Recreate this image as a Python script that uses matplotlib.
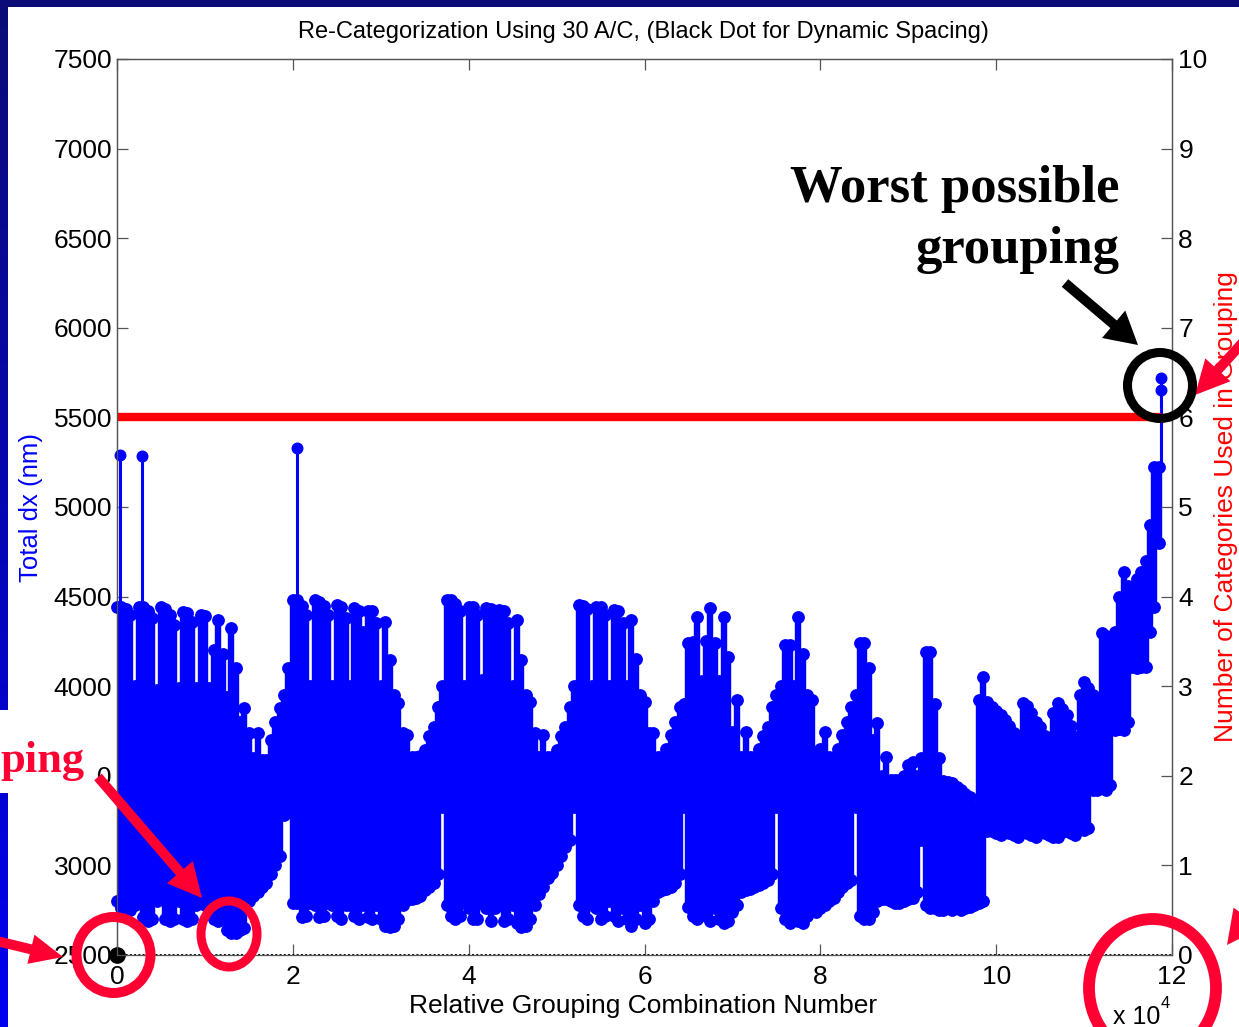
import numpy as np
import matplotlib
matplotlib.use("Agg")
import matplotlib.pyplot as plt
from matplotlib.patches import Rectangle, Ellipse, FancyArrow

plt.rcParams['font.family'] = ['Liberation Sans', 'DejaVu Sans']

W, H, DPI = 1239, 1027, 100

# ---------------- data ----------------
x_step = 0.05   # spacing of the read-off samples, in units of 1e4 groupings

total_hi = [
    4440, 4440, 4430, 4400, 4000, 4440, 4440, 4420, 4380, 3980,
    4440, 4430, 4400, 4340, 3990, 4414, 4410, 4360, 3990, 4397,
    4390, 3990, 4200, 4370, 4180, 3940, 4325, 4100, 3800, 3878,
    3740, 3600, 3740, 3590, 3590, 3700, 3800, 3880, 3950, 4100,
    4480, 4480, 4450, 4400, 4000, 4480, 4470, 4450, 4400, 4000,
    4453, 4440, 4380, 4000, 4436, 4420, 4300, 4420, 4420, 4350,
    4000, 4358, 4146, 3950, 3906, 3740, 3728, 3605, 3605, 3610,
    3644, 3720, 3772, 3884, 4000, 4480, 4480, 4460, 4420, 4000,
    4442, 4440, 4400, 4035, 4436, 4430, 4380, 4425, 4420, 4350,
    4000, 4369, 4146, 3950, 3912, 3739, 3605, 3728, 3605, 3605,
    3644, 3720, 3772, 3884, 4000, 4453, 4450, 4430, 4000, 4442,
    4440, 4400, 4000, 4425, 4420, 4350, 4000, 4369, 4150, 3950,
    3912, 3739, 3739, 3605, 3605, 3650, 3730, 3800, 3884, 3900,
    4240, 4247, 4386, 4030, 4250, 4436, 4240, 4030, 4386, 4163,
    3745, 3923, 3605, 3745, 3605, 3605, 3650, 3720, 3770, 3884,
    3950, 4000, 4230, 4230, 4000, 4386, 4180, 3950, 3923, 3605,
    3650, 3745, 3605, 3605, 3650, 3730, 3800, 3884, 3950, 4241,
    4241, 4100, 3700, 3795, 3500, 3605, 3477, 3477, 3477, 3500,
    3560, 3577, 3500, 3600, 4191, 4191, 3900, 3600, 3470, 3465,
    3460, 3440, 3420, 3400, 3380, 3326, 3923, 4051, 3910, 3884,
    3860, 3840, 3811, 3780, 3740, 3700, 3906, 3890, 3850, 3800,
    3773, 3720, 3683, 3850, 3906, 3870, 3840, 3780, 3717, 3950,
    4023, 3990, 3950, 3900, 4297, 4280, 4260, 4300, 4500, 4637,
    4560, 4550, 4600, 4637, 4700, 4900, 5223, 5223,
]

total_lo = [
    2800, 2760, 2750, 2750, 2780, 2820, 2710, 2690, 2700, 2800,
    2820, 2700, 2690, 2700, 2800, 2700, 2690, 2700, 2780, 2800,
    2780, 2790, 2700, 2690, 2700, 2640, 2620, 2625, 2640, 2650,
    2800, 2830, 2850, 2880, 2900, 2950, 3000, 3050, 3280, 3310,
    2790, 2790, 2710, 2720, 2790, 2780, 2710, 2720, 2790, 2780,
    2720, 2700, 2780, 2780, 2720, 2700, 2780, 2710, 2700, 2780,
    2700, 2660, 2656, 2660, 2700, 2780, 2807, 2810, 2820, 2830,
    2860, 2880, 2900, 2950, 3326, 2780, 2720, 2700, 2720, 2800,
    2760, 2700, 2700, 2790, 2760, 2690, 2760, 2780, 2690, 2700,
    2780, 2680, 2656, 2660, 2700, 2780, 2840, 2880, 2930, 2960,
    3000, 3050, 3100, 3142, 3326, 2780, 2720, 2700, 2780, 2760,
    2700, 2720, 2800, 2720, 2690, 2760, 2700, 2660, 2700, 2780,
    2680, 2700, 2800, 2850, 2860, 2870, 2880, 2900, 2950, 3326,
    2770, 2720, 2700, 2760, 2720, 2690, 2760, 2700, 2678, 2690,
    2740, 2780, 2850, 2860, 2870, 2880, 2890, 2900, 2920, 2950,
    3326, 2760, 2700, 2680, 2740, 2690, 2680, 2720, 2760, 2740,
    2760, 2780, 2800, 2820, 2850, 2880, 2900, 2919, 3326, 2720,
    2700, 2700, 2740, 2800, 2810, 2810, 2800, 2790, 2790, 2800,
    2810, 2820, 2850, 3142, 2780, 2760, 2760, 2750, 2750, 2760,
    2750, 2760, 2750, 2760, 2770, 2780, 2790, 2800, 3190, 3190,
    3180, 3170, 3186, 3180, 3170, 3160, 3186, 3180, 3170, 3160,
    3190, 3180, 3170, 3160, 3160, 3186, 3190, 3180, 3170, 3209,
    3200, 3209, 3421, 3421, 3430, 3421, 3450, 3756, 3760, 3756,
    3800, 4107, 4100, 4107, 4107, 4300, 4442, 4800,
]

spike_x = [0.03, 0.28, 2.05, 11.87, 11.87]
spike_base = [4440, 4440, 4480, 5223, 5223]
spike_top = [5290, 5285, 5330, 5720, 5655]

cat_x = [0.0, 11.87]          # number of categories used (right axis)
cat_y = [6, 6]

dyn_x = [0.0]                 # black dot for dynamic spacing
dyn_y = [2500]
base_x = [0.0, 12.0]          # dotted baseline
base_y = [2500, 2500]

x_ticks = [0, 2, 4, 6, 8, 10, 12]
x_ticklabels = ['0', '2', '4', '6', '8', '10', '12']
y_ticks = [2500, 3000, 3500, 4000, 4500, 5000, 5500, 6000, 6500, 7000, 7500]
y2_ticks = [0, 1, 2, 3, 4, 5, 6, 7, 8, 9, 10]

title = 'Re-Categorization Using 30 A/C, (Black Dot for Dynamic Spacing)'
xlabel = 'Relative Grouping Combination Number'
ylabel = 'Total dx (nm)'
y2label = 'Number of Categories Used in Grouping'

BLUE = '#0000ff'
SLIDE_RED = '#ff0033'

# ---------------- figure ----------------
fig = plt.figure(figsize=(W / DPI, H / DPI), dpi=DPI)
fig.patch.set_facecolor('white')


def fx(px):
    return px / W


def fy(py):
    return 1 - py / H


L, R, T, B = 117, 1172, 59, 955
ax = fig.add_axes([fx(L), fy(B), (R - L) / W, (B - T) / H])
ax.set_facecolor('white')

xs = np.arange(len(total_hi)) * x_step
ax.vlines(xs, total_lo, total_hi, colors=BLUE, lw=4.6, zorder=2)
ax.plot(xs, total_hi, 'o', ms=8.2, color=BLUE, mec=BLUE, zorder=3, clip_on=False)
ax.plot(xs, total_lo, 'o', ms=8.2, color=BLUE, mec=BLUE, zorder=3, clip_on=False)
ax.vlines(spike_x, spike_base, spike_top, colors=BLUE, lw=2.2, zorder=2)
ax.plot(spike_x, spike_top, 'o', ms=7.6, color=BLUE, mec=BLUE, zorder=3, clip_on=False)

ax.plot(base_x, base_y, color='k', lw=1.4, ls=(0, (1, 1.2)), zorder=4, clip_on=False)
ax.plot(dyn_x, dyn_y, 'o', color='k', ms=11, zorder=6, clip_on=False)

ax.set_xlim(0, 12)
ax.set_ylim(2500, 7500)
ax.set_xticks(x_ticks)
ax.set_xticklabels(x_ticklabels)
ax.set_yticks(y_ticks)
ax.tick_params(axis='x', direction='in', length=8, width=0.9, color='#555555',
               labelsize=19, pad=7, top=True)
ax.tick_params(axis='y', direction='in', length=8, width=0.9, color='#555555',
               labelsize=19, pad=3.5)

ax2 = ax.twinx()
ax2.set_ylim(0, 10)
ax2.set_yticks(y2_ticks)
ax2.plot(cat_x, cat_y, color='#ff0000', lw=6, solid_capstyle='butt', zorder=2)
ax2.tick_params(axis='y', direction='in', length=8, width=0.9, color='#555555',
                labelsize=19, pad=4.5)
for a in (ax, ax2):
    for s in a.spines.values():
        s.set_color('#555555')
        s.set_linewidth(0.9)
ax.spines['bottom'].set_visible(False)

fig.text(fx(643), fy(32), title, ha='center', va='center', fontsize=17)
fig.text(fx(643), fy(1006), xlabel, ha='center', va='center', fontsize=19)
fig.text(fx(31), fy(507), ylabel, ha='center', va='center', rotation=90,
         fontsize=18.5, color=BLUE)
fig.text(fx(1226), fy(507), y2label, ha='center', va='center', rotation=90,
         fontsize=19, color='#ff0000')
fig.text(fx(1113), fy(1017), 'x 10', ha='left', va='center', fontsize=18)
fig.text(fx(1161), fy(1003), '4', ha='left', va='center', fontsize=12)

# ---------------- slide overlay (pixel coordinates) ----------------
ov = fig.add_axes([0, 0, 1, 1], zorder=10)
ov.set_facecolor('none')
ov.axis('off')

grad = np.linspace(0, 1, 256)[:, None]
c0 = np.array([12, 12, 118]) / 255.0
c1 = np.array([0, 0, 240]) / 255.0
img = (c0[None, None, :] * (1 - grad[:, :, None]) + c1[None, None, :] * grad[:, :, None])
ov.imshow(img, extent=[0, 8, H, 0], aspect='auto', zorder=1, interpolation='bilinear')
ov.add_patch(Rectangle((0, 0), W, 7, color='#0c0c78', zorder=1, lw=0))

# white box behind the cut-off red word
ov.add_patch(Rectangle((0, 710), 97, 83, color='white', zorder=2, lw=0))
ov.text(0, 772, 'ping', ha='left', va='baseline', fontsize=32,
        fontweight='bold', family='Liberation Serif', color=SLIDE_RED, zorder=3)

ov.text(1120, 202, 'Worst possible', ha='right', va='baseline', fontsize=38,
        fontweight='bold', family='Liberation Serif', color='black', zorder=3)
ov.text(1120, 263, 'grouping', ha='right', va='baseline', fontsize=38,
        fontweight='bold', family='Liberation Serif', color='black', zorder=3)


def arrow(x0, y0, x1, y1, color, width=10, hw=32, hl=32):
    ov.add_patch(FancyArrow(x0, y0, x1 - x0, y1 - y0, width=width, head_width=hw,
                            head_length=hl, length_includes_head=True,
                            color=color, lw=0, zorder=5))


arrow(-20, 937, 63, 957, SLIDE_RED, hw=30, hl=33)
arrow(98, 777, 202, 898, SLIDE_RED, hw=34, hl=34)
arrow(1265, 318, 1195, 395, SLIDE_RED, hw=34, hl=34)
arrow(1290, 860, 1227, 945, SLIDE_RED, hw=34, hl=34)
arrow(1065, 283, 1138, 345, 'black', hw=36, hl=32)

ov.add_patch(Ellipse((113.5, 955), 74, 76, fill=False, lw=7.2, ec=SLIDE_RED, zorder=6))
ov.add_patch(Ellipse((229, 934), 56, 66, fill=False, lw=6.5, ec=SLIDE_RED, zorder=6))
ov.add_patch(Ellipse((1152.5, 988), 127, 138, fill=False, lw=8.5, ec=SLIDE_RED, zorder=6))
ov.add_patch(Ellipse((1160, 385.5), 65, 66, fill=False, lw=6.5, ec='black', zorder=6))

ov.set_xlim(0, W)
ov.set_ylim(H, 0)

fig.savefig('out.png', dpi=DPI, facecolor=fig.get_facecolor())
